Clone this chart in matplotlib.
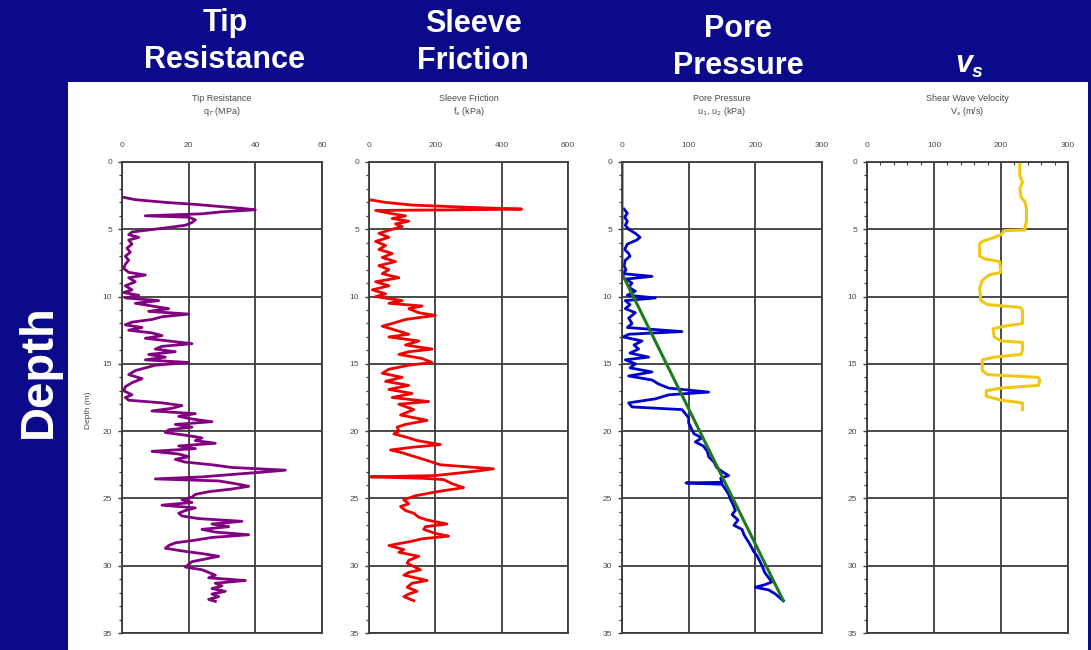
"""CPT log: tip resistance, sleeve friction, pore pressure and shear wave velocity vs depth."""

import matplotlib

matplotlib.use("Agg")
import matplotlib.pyplot as plt
from matplotlib.patches import Rectangle
from matplotlib.ticker import MultipleLocator

# --- data ------------------------------------------------------------------

tip_depth = [
    2.6, 2.8, 3.0, 3.15, 3.3, 3.45, 3.55, 3.7, 3.85, 4.0,
    4.1, 4.3, 4.5, 4.7, 4.9, 5.05, 5.2, 5.4, 5.6, 5.8,
    6.1, 6.4, 6.7, 7.0, 7.3, 7.6, 7.9, 8.2, 8.4, 8.6,
    8.9, 9.2, 9.5, 9.7, 9.9, 10.1, 10.3, 10.5, 10.7, 10.9,
    11.1, 11.3, 11.5, 11.7, 11.9, 12.1, 12.3, 12.5, 12.7, 12.9,
    13.1, 13.3, 13.5, 13.7, 13.9, 14.1, 14.3, 14.5, 14.7, 14.9,
    15.1, 15.3, 15.5, 15.8, 16.1, 16.4, 16.7, 17.0, 17.3, 17.5,
    17.7, 17.9, 18.1, 18.3, 18.5, 18.7, 18.9, 19.1, 19.3, 19.5,
    19.7, 19.9, 20.1, 20.3, 20.5, 20.7, 20.9, 21.1, 21.3, 21.5,
    21.7, 21.9, 22.1, 22.3, 22.5, 22.7, 22.9, 23.05, 23.2, 23.4,
    23.55, 23.7, 23.9, 24.1, 24.3, 24.5, 24.7, 24.9, 25.1, 25.3,
    25.5, 25.7, 25.9, 26.1, 26.3, 26.5, 26.7, 26.9, 27.1, 27.3,
    27.5, 27.7, 27.9, 28.1, 28.3, 28.5, 28.7, 28.9, 29.1, 29.3,
    29.5, 29.7, 29.9, 30.1, 30.3, 30.5, 30.7, 30.9, 31.1, 31.3,
    31.5, 31.7, 31.9, 32.1, 32.3, 32.5, 32.65,
]
tip_qt = [
    0, 4, 13, 22, 29, 36, 40, 30, 24, 7,
    20, 22, 21, 19, 13, 8, 3, 2, 5, 2,
    3, 1.5, 2.5, 1, 2, 1, 0.5, 2, 7, 2,
    4, 1, 3, 0.5, 5, 1, 11, 4, 9, 14,
    8, 20, 12, 9, 3, 1, 6, 2, 9, 12,
    7, 14, 21, 12, 10, 16, 8, 13, 7, 20,
    10, 7, 4, 2, 6, 3, 1, 0.5, 3, 1,
    2, 12, 18, 15, 9, 22, 17, 21, 27, 16,
    21, 14, 13, 19, 24, 22, 28, 17, 22, 9,
    17, 20, 16, 19, 27, 33, 49, 42, 34, 24,
    10, 29, 34, 38, 33, 26, 22, 21, 18, 21,
    12, 22, 19, 17, 18, 23, 36, 27, 32, 24,
    28, 38, 27, 22, 16, 14, 13, 18, 24, 29,
    25, 21, 20, 19, 24, 26, 28, 26, 37, 28,
    30, 27, 31, 27, 29, 26, 28,
]

sleeve_depth = [
    2.8, 3.0, 3.2, 3.35, 3.5, 3.55, 3.6, 3.8, 4.0, 4.2,
    4.4, 4.6, 4.8, 5.0, 5.3, 5.6, 5.9, 6.2, 6.5, 6.8,
    7.1, 7.4, 7.7, 8.0, 8.3, 8.6, 8.9, 9.2, 9.5, 9.8,
    10.0, 10.3, 10.5, 10.7, 10.9, 11.2, 11.4, 11.7, 12.0, 12.2,
    12.5, 12.8, 13.0, 13.3, 13.6, 13.9, 14.1, 14.3, 14.6, 14.9,
    15.1, 15.4, 15.7, 16.0, 16.3, 16.6, 16.9, 17.2, 17.5, 17.8,
    18.0, 18.4, 18.8, 19.2, 19.5, 19.7, 20.0, 20.2, 20.5, 20.7,
    21.0, 21.2, 21.4, 21.6, 21.8, 22.1, 22.3, 22.5, 22.8, 22.95,
    23.1, 23.3, 23.4, 23.5, 23.6, 23.9, 24.2, 24.5, 24.8, 25.1,
    25.4, 25.6, 25.9, 26.1, 26.4, 26.6, 26.9, 27.1, 27.3, 27.6,
    27.8, 28.0, 28.2, 28.5, 28.8, 29.0, 29.3, 29.6, 29.8, 30.0,
    30.3, 30.5, 30.7, 31.1, 31.3, 31.6, 31.9, 32.1, 32.3, 32.6,
]
sleeve_fs = [
    0, 50, 130, 280, 460, 300, 20, 60, 110, 70,
    120, 80, 100, 70, 30, 60, 20, 50, 30, 70,
    40, 80, 30, 60, 40, 90, 20, 60, 10, 50,
    20, 100, 60, 160, 120, 150, 200, 110, 70, 40,
    80, 120, 60, 150, 110, 190, 120, 90, 160, 190,
    120, 60, 40, 100, 50, 120, 60, 130, 70, 180,
    90, 135, 95, 175, 110, 85, 90, 75, 120, 145,
    215, 130, 65, 100, 125, 165, 190, 215, 375, 330,
    275, 200, 5, 160, 225, 250, 285, 205, 140, 105,
    120, 95, 110, 135, 150, 175, 235, 170, 165, 200,
    240, 160, 125, 60, 105, 90, 150, 120, 115, 130,
    155, 120, 105, 175, 130, 115, 145, 120, 105, 135,
]

pore_depth = [
    3.5, 3.8, 4.1, 4.4, 4.7, 5.0, 5.3, 5.6, 5.8, 6.1,
    6.5, 6.8, 7.0, 7.3, 7.7, 8.0, 8.3, 8.5, 8.7, 9.0,
    9.3, 9.6, 9.9, 10.1, 10.3, 10.6, 10.9, 11.2, 11.6, 12.0,
    12.3, 12.6, 12.8, 13.0, 13.3, 13.6, 13.9, 14.2, 14.5, 14.7,
    15.0, 15.3, 15.6, 15.9, 16.2, 16.5, 16.8, 17.1, 17.3, 17.6,
    17.9, 18.2, 18.4, 18.7, 19.0, 19.4, 19.8, 20.2, 20.5, 20.8,
    21.1, 21.5, 21.9, 22.3, 22.7, 23.0, 23.3, 23.5, 23.8, 23.85,
    23.95, 24.3, 24.7, 25.1, 25.5, 25.9, 26.2, 26.6, 27.0, 27.3,
    27.7, 28.1, 28.5, 28.9, 29.3, 29.7, 30.1, 30.5, 30.9, 31.2,
    31.4, 31.6, 31.8, 32.1, 32.4, 32.6,
]
pore_u2 = [
    3, 8, 4, 8, 5, 10, 20, 27, 22, 8,
    4, 10, 12, 5, 3, 6, 2, 45, 6, 15,
    10, 20, 8, 50, 5, 12, 5, 20, 10, 15,
    8, 90, 10, 2, 30, 18, 25, 12, 40, 5,
    20, 12, 45, 10, 45, 55, 70, 130, 70, 50,
    10, 15, 90, 95, 100, 100, 104, 108, 120, 110,
    122, 128, 130, 138, 142, 150, 160, 148, 150, 96,
    150, 155, 160, 163, 167, 170, 165, 174, 168, 180,
    183, 188, 193, 197, 203, 207, 211, 214, 220, 225,
    215, 200, 220, 230, 237, 242,
]

hydro_depth = [0, 8.3, 32.6]
hydro_u0 = [0, 0, 242]

vs_depth = [
    0, 1.0, 1.5, 2.0, 2.6, 3.0, 3.5, 4.4, 4.8, 5.05,
    5.1, 5.4, 5.6, 5.9, 6.1, 7.0, 7.2, 7.4, 8.2, 8.4,
    8.8, 9.4, 10.3, 10.6, 10.8, 11.0, 12.0, 12.2, 12.4, 13.0,
    13.3, 13.4, 14.0, 14.3, 14.5, 14.7, 15.5, 15.8, 16.0, 16.2,
    16.6, 16.8, 17.0, 17.4, 17.7, 17.9, 18.4,
]
vs_speed = [
    228, 228, 232, 228, 230, 236, 238, 238, 236, 236,
    205, 200, 190, 172, 168, 168, 176, 198, 200, 182,
    172, 168, 170, 180, 228, 232, 232, 205, 188, 190,
    200, 232, 232, 230, 190, 172, 172, 180, 255, 258,
    256, 200, 178, 178, 200, 232, 232,
]

NAVY = "#0a0a8a"
GRID = "#3c3c3c"
LABEL = "#4a4a4a"
W, H = 1091, 650


def _rect(left, right, top=162, bottom=633):
    return [left / W, 1 - bottom / H, (right - left) / W, (bottom - top) / H]


def _track(fig, left, right, xmax, xstep, title, minor_x=None):
    ax = fig.add_axes(_rect(left, right))
    ax.set_xlim(0, xmax)
    ax.set_ylim(35, 0)
    ax.xaxis.set_major_locator(MultipleLocator(xstep))
    ax.yaxis.set_major_locator(MultipleLocator(5))
    ax.yaxis.set_minor_locator(MultipleLocator(1))
    ax.xaxis.tick_top()
    ax.tick_params(axis="x", which="major", length=0, pad=9,
                   labelsize=6, labelcolor=LABEL)
    ax.tick_params(axis="y", which="major", length=3, width=1, pad=4,
                   labelsize=6, labelcolor=LABEL, color=GRID)
    ax.tick_params(axis="y", which="minor", length=2.5, width=0.9, color=GRID)
    if minor_x:
        ax.xaxis.set_minor_locator(MultipleLocator(minor_x))
        ax.tick_params(axis="x", which="minor", direction="in", length=2.5,
                       width=0.8, color=GRID)
    ax.grid(True, which="major", color=GRID, lw=1.3)
    for spine in ax.spines.values():
        spine.set_color(GRID)
        spine.set_linewidth(1.3)
    ax.set_axisbelow(True)
    fig.text((left + right) / 2 / W, 1 - 106 / H, title, ha="center",
             va="center", fontsize=6.5, color=LABEL, linespacing=1.3)
    return ax


def main():
    plt.rcParams["font.family"] = ["Liberation Sans", "DejaVu Sans"]
    fig = plt.figure(figsize=(W / 100, H / 100), dpi=100)
    fig.patch.set_facecolor(NAVY)
    fig.add_artist(Rectangle((68 / W, 0), (1088 - 68) / W, (650 - 82) / H,
                             transform=fig.transFigure, facecolor="white",
                             edgecolor="none", zorder=0))

    # slide headings (baseline of the last line given)
    head = dict(ha="center", va="baseline", fontsize=22, fontweight="bold",
                color="white", linespacing=1.32)
    fig.text(225 / W, 1 - 68 / H, "Tip\nResistance", **head)
    fig.text(473 / W, 1 - 69 / H, "Sleeve\nFriction", **head)
    fig.text(738 / W, 1 - 74 / H, "Pore\nPressure", **head)
    fig.text(964 / W, 1 - 72 / H, "v", ha="center", va="baseline", fontsize=22,
             fontweight="bold", fontstyle="italic", color="white")
    fig.text(977 / W, 1 - 77 / H, "s", ha="center", va="baseline", fontsize=14,
             fontweight="bold", fontstyle="italic", color="white")
    fig.text(39 / W, 1 - 371 / H, "Depth", ha="center", va="center",
             rotation=90, fontsize=34, fontweight="bold", color="white")

    ax1 = _track(fig, 122, 322, 60, 20, "Tip Resistance\nq$_T$ (MPa)")
    ax1.plot(tip_qt, tip_depth, color="#800080", lw=2)
    fig.text(88 / W, 1 - 410 / H, "Depth (m)", rotation=90, ha="center",
             va="center", fontsize=6, color=LABEL)

    ax2 = _track(fig, 369, 568, 600, 200, "Sleeve Friction\nf$_s$ (kPa)")
    ax2.plot(sleeve_fs, sleeve_depth, color="#f00000", lw=2)

    ax3 = _track(fig, 622, 822, 300, 100, "Pore Pressure\nu$_1$, u$_2$ (kPa)")
    ax3.plot(pore_u2, pore_depth, color="#0000cc", lw=2)
    ax3.plot(hydro_u0, hydro_depth, color="#1d7a1d", lw=2.2)

    ax4 = _track(fig, 867, 1068, 300, 100, "Shear Wave Velocity\nV$_s$ (m/s)",
                 minor_x=20)
    ax4.plot(vs_speed, vs_depth, color="#f0c814", lw=2.2)

    fig.savefig("out.png", dpi=100, facecolor=fig.get_facecolor())
    plt.close(fig)


if __name__ == "__main__":
    main()
